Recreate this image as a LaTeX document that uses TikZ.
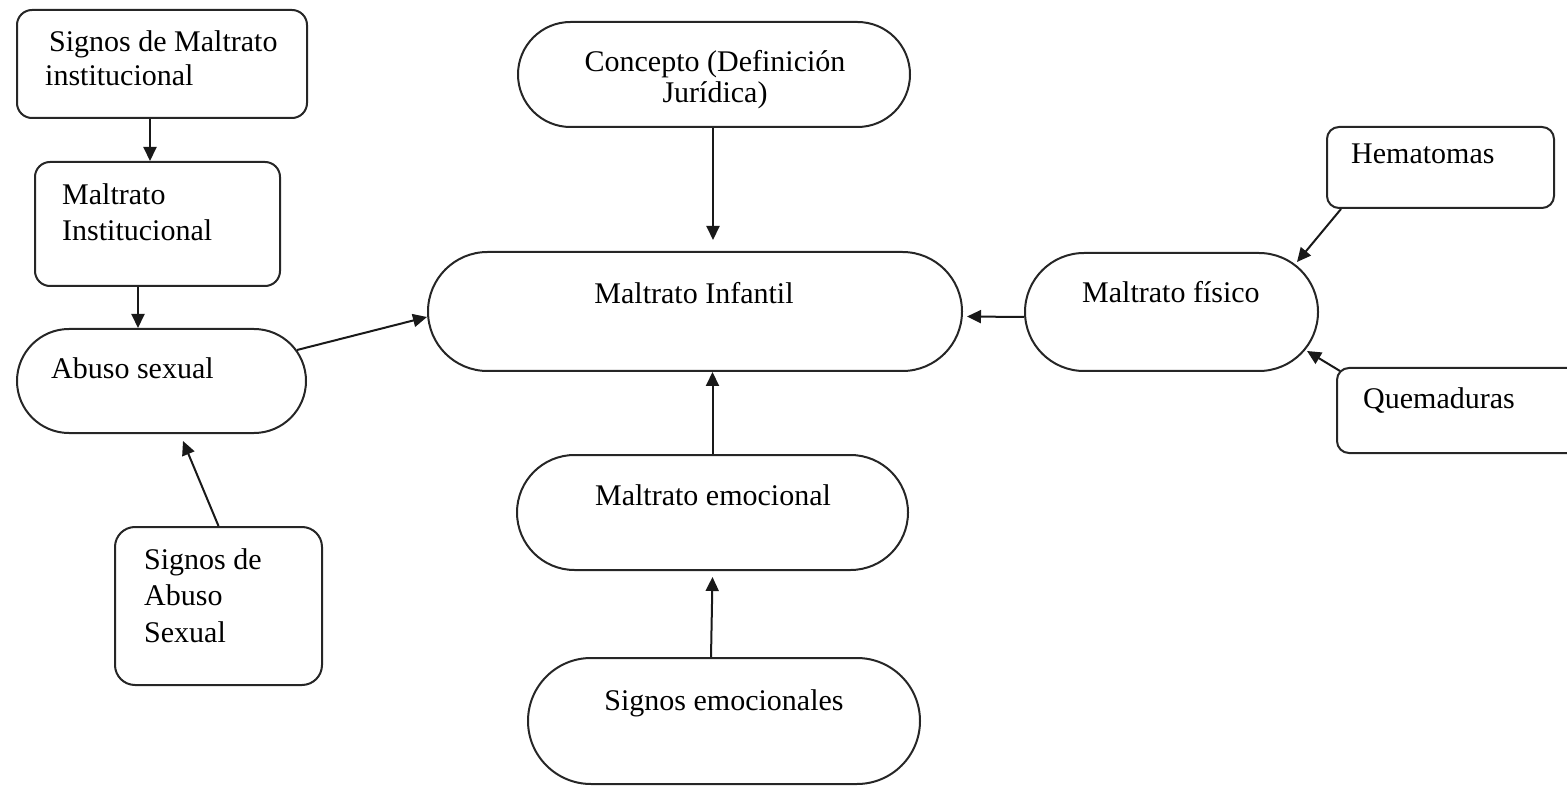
\documentclass[tikz,border=0pt]{standalone}
\usepackage{fontspec}
\setmainfont{Liberation Serif}
\usetikzlibrary{arrows.meta}
\begin{document}
\begin{tikzpicture}[x=1pt,y=-1pt,
  shp/.style={draw=black!85, line width=2pt, inner sep=0pt},
  txt/.style={inner sep=0pt, font=\fontsize{30}{35}\selectfont, text=black},
  arr/.style={draw=black!90, line width=2pt, -{Triangle[length=14pt,width=13pt]}}]
\useasboundingbox (0,0) rectangle (1567,786);
\clip (0,0) rectangle (1567,786);
% shapes
\node[shp, minimum width=290pt, minimum height=108pt, rounded corners=15pt] (sigmi) at (162,64) {};
\node[shp, minimum width=245pt, minimum height=124pt, rounded corners=15pt] (mi) at (157.5,224) {};
\node[shp, minimum width=289pt, minimum height=104pt, rounded corners=52pt] (abuso) at (161.5,381) {};
\node[shp, minimum width=207pt, minimum height=158pt, rounded corners=20pt] (sigas) at (218.5,606) {};
\node[shp, minimum width=392pt, minimum height=105pt, rounded corners=52.5pt] (concepto) at (714,74.5) {};
\node[shp, minimum width=534pt, minimum height=119pt, rounded corners=59.5pt] (infantil) at (695,311.5) {};
\node[shp, minimum width=391pt, minimum height=115pt, rounded corners=57.5pt] (emocional) at (712.5,512.5) {};
\node[shp, minimum width=392pt, minimum height=126pt, rounded corners=63pt] (semo) at (724,721) {};
\node[shp, minimum width=293pt, minimum height=118pt, rounded corners=59pt] (fisico) at (1171.5,312) {};
\node[shp, minimum width=227pt, minimum height=81pt, rounded corners=12pt] (hema) at (1440.5,167.5) {};
\node[shp, minimum width=246pt, minimum height=85pt, rounded corners=12pt] (quem) at (1460,410.5) {};
% texts
\node[txt, anchor=base west] (t1a) at (49,52) {Signos de Maltrato};
\node[txt, anchor=base west] (t1b) at (45,86) {institucional};
\node[txt, anchor=base west] (t2a) at (62,205) {Maltrato};
\node[txt, anchor=base west] (t2b) at (62,241) {Institucional};
\node[txt, anchor=base west] (t3) at (51,378) {Abuso sexual};
\node[txt, anchor=base west] (t4a) at (144,569) {Signos de};
\node[txt, anchor=base west] (t4b) at (144,605) {Abuso};
\node[txt, anchor=base west] (t4c) at (144,642) {Sexual};
\node[txt, anchor=base] (t5a) at (715,72) {Concepto (Definición};
\node[txt, anchor=base] (t5b) at (715,103) {Jurídica)};
\node[txt, anchor=base] (t6) at (694,304) {Maltrato Infantil};
\node[txt, anchor=base] (t7) at (713,505) {Maltrato emocional};
\node[txt, anchor=base] (t8) at (724,710) {Signos emocionales};
\node[txt, anchor=base west] (t9) at (1082,303) {Maltrato físico};
\node[txt, anchor=base west] (t10) at (1351,164) {Hematomas};
\node[txt, anchor=base west] (t11) at (1363,408) {Quemaduras};
% connectors
\draw[arr] ([xshift=-12pt]sigmi.south) -- ([xshift=-7.5pt]mi.north);
\draw[arr] ([xshift=-19.5pt]mi.south) -- ([xshift=-23.5pt]abuso.north);
\draw[arr] ([xshift=135.5pt,yshift=31pt]abuso.center) -- ([yshift=-5.5pt]infantil.west);
\draw[arr] (sigas.north) -- ([xshift=21.5pt,yshift=-7pt]abuso.south);
\draw[arr] ([xshift=-1pt]concepto.south) -- ([xshift=18pt,yshift=11pt]infantil.north);
\draw[arr] (emocional.north) -- ([xshift=17.5pt]infantil.south);
\draw[arr] ([xshift=-13pt]semo.north) -- ([yshift=-6pt]emocional.south);
\draw[arr] ([yshift=-5pt]fisico.west) -- ([xshift=4pt,yshift=-5pt]infantil.east);
\draw[arr] ([xshift=15pt]hema.south west) -- ([xshift=-22pt,yshift=-10pt]fisico.north east);
\draw[arr] ([xshift=4pt,yshift=-4pt]quem.north west) -- ([xshift=-12pt,yshift=21pt]fisico.south east);
\end{tikzpicture}
\end{document}
